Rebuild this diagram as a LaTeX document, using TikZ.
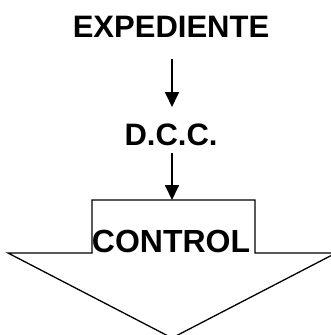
\documentclass[tikz,border=0pt]{standalone}
\usepackage{fontspec}
\setmainfont{Liberation Sans}
\usetikzlibrary{arrows.meta}
\begin{document}
\begin{tikzpicture}[x=1pt,y=-1pt,
  lbl/.style={font=\bfseries\fontsize{31}{34}\selectfont, inner sep=0pt, anchor=base},
  conn/.style={line width=1.8pt, -{Triangle[length=15pt,width=14pt]}},
  bigarrow/.style={draw=black, line width=1.3pt, fill=white, line join=miter}]
\useasboundingbox (0,0) rectangle (331,335);
\fill[white] (0,0) rectangle (331,335);
\draw[bigarrow] (8,253) -- (92,253) -- (92,200) -- (255,200) -- (255,253) -- (336,253) -- (172,338) -- cycle;
\node[lbl] (exp) at (171,37) {EXPEDIENTE};
\node[lbl] (dcc) at (171,145) {D.C.C.};
\node[lbl, font=\bfseries\fontsize{32}{35}\selectfont] (ctl) at (171,252) {CONTROL};
\coordinate (a1) at (172,59);
\coordinate (a2) at (172,107);
\coordinate (b1) at (172,153);
\coordinate (b2) at (172,200);
\draw[conn] (a1) -- (a2);
\draw[conn] (b1) -- (b2);
\end{tikzpicture}
\end{document}
